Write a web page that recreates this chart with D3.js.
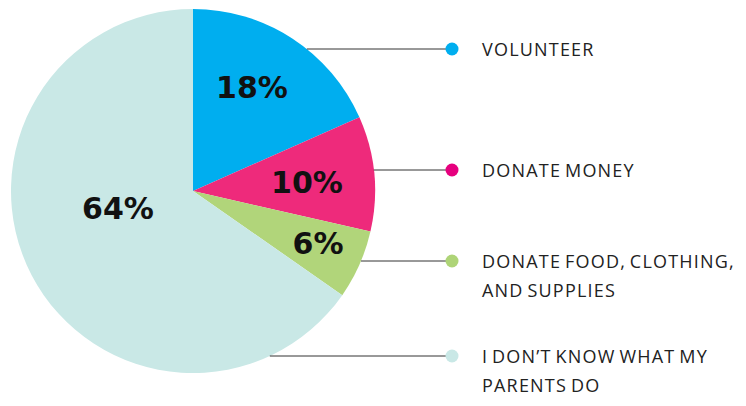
<!DOCTYPE html>
<html lang="en">
<head>
<meta charset="UTF-8">
<title>Pie</title>
<script src="https://d3js.org/d3.v7.min.js"></script>
<style>
  body { margin: 0; background: #fff; }
  .pct { font-family: "DejaVu Sans", sans-serif; font-weight: bold; font-size: 30px; fill: #111; }
  .lbl { font-family: "Open Sans", sans-serif; font-size: 18px; letter-spacing: 1.2px; word-spacing: -2px; fill: #222; }
</style>
</head>
<body>
<svg id="chart" width="746" height="406"></svg>
<script>
var categories = ["VOLUNTEER", "DONATE MONEY", "DONATE FOOD, CLOTHING, AND SUPPLIES", "I DON\u2019T KNOW WHAT MY PARENTS DO"];
var values = [18, 10, 6, 64];
var labelLines = [["VOLUNTEER"], ["DONATE MONEY"], ["DONATE FOOD, CLOTHING,", "AND SUPPLIES"], ["I DON\u2019T KNOW WHAT MY", "PARENTS DO"]];
var sliceColors = ["#00aeef", "#ee2a7b", "#b1d57a", "#c9e8e6"];
var dotColors = ["#00aeef", "#e6007e", "#aed477", "#c9e8e6"];

var cx = 193, cy = 191, radius = 182;
var rowY = [49, 170, 261, 356];
var pctPos = [[252, 87], [307, 182], [318, 243], [118, 208]];

var svg = d3.select("#chart");
var g = svg.append("g").attr("transform", "translate(" + cx + "," + cy + ")");

var pie = d3.pie().sort(null).value(function(d) { return d; });
var arc = d3.arc().innerRadius(0).outerRadius(radius);
var arcs = pie(values);

g.selectAll("path")
  .data(arcs)
  .enter().append("path")
  .attr("d", arc)
  .attr("fill", function(d, i) { return sliceColors[i]; });

// percent labels
svg.selectAll(".pct")
  .data(arcs)
  .enter().append("text")
  .attr("class", "pct")
  .attr("x", function(d, i) { return pctPos[i][0]; })
  .attr("y", function(d, i) { return pctPos[i][1]; })
  .attr("text-anchor", "middle")
  .attr("dominant-baseline", "central")
  .text(function(d) { return d.data + "%"; });

// leader lines from pie edge
var dotX = 452;
svg.selectAll(".leader")
  .data(rowY)
  .enter().append("line")
  .attr("class", "leader")
  .attr("x1", function(y) { var dy = y - cy; return cx + Math.sqrt(radius * radius - dy * dy); })
  .attr("y1", function(y) { return y; })
  .attr("x2", dotX)
  .attr("y2", function(y) { return y; })
  .attr("stroke", "#333")
  .attr("stroke-width", 1);

svg.selectAll(".dot")
  .data(rowY)
  .enter().append("circle")
  .attr("cx", dotX)
  .attr("cy", function(y) { return y; })
  .attr("r", 6.5)
  .attr("fill", function(y, i) { return dotColors[i]; });

// legend labels
labelLines.forEach(function(lines, i) {
  var t = svg.append("text").attr("class", "lbl")
    .attr("x", 482).attr("y", rowY[i]).attr("dominant-baseline", "central");
  lines.forEach(function(s, j) {
    t.append("tspan").attr("x", 482).attr("dy", j === 0 ? 0 : 29).text(s);
  });
});
</script>
</body>
</html>
